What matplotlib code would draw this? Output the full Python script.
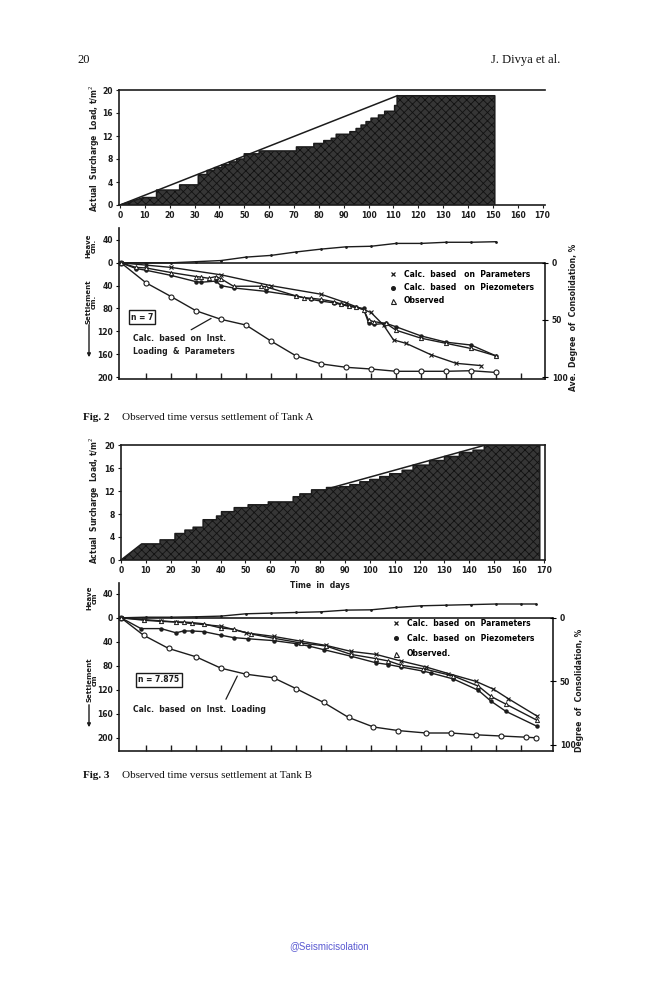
import numpy as np
import matplotlib.pyplot as plt
from matplotlib.lines import Line2D

plt.rcParams['font.family'] = 'DejaVu Sans'
plt.rcParams['hatch.linewidth'] = 0.6

# ---- Tank A (Fig. 2) ----
load_a_days = [9.4, 14.7, 24, 31.5, 35, 38, 41, 44, 47, 50, 56, 71, 78, 82, 85, 87,
               92.5, 95, 97, 99, 101, 104, 106.5, 110.5, 111.5]
load_a = [1.3, 2.6, 3.5, 5.3, 6.0, 6.5, 7.0, 7.5, 8.0, 8.9, 9.4, 10.1, 10.7, 11.2, 11.6, 12.3,
          12.75, 13.3, 13.9, 14.5, 15.1, 15.65, 16.3, 17.3, 19.0]
load_a_end = 150.8
plan_a_days = [0, 111.5]
plan_a = [0, 19.0]

heave_a_days = [0, 10, 20, 30, 40, 50, 60, 70, 80, 90, 100, 110, 120, 130, 140, 150]
heave_a = [0, 0, 0, 2, 4, 10, 13, 19, 24, 28, 29, 34, 34, 36, 36, 37]

inst_a_days = [0, 10, 20, 30, 40, 50, 60, 70, 80, 90, 100, 110, 120, 130, 140, 150]
inst_a = [0, 35, 59, 84, 99, 109, 137, 163, 177, 183, 186, 190, 190, 190, 189, 192]

param_a_days = [0, 10, 20, 40, 60, 80, 90, 100, 105, 109, 114, 124, 134, 144]
param_a = [0, 4, 8, 21, 40, 55, 70, 87, 109, 135, 141, 161, 176, 180]

piezo_a_days = [0, 6, 10, 20, 30, 32, 38, 40, 45, 58, 70, 76, 80, 85, 88, 91, 94, 97,
                99, 101, 106, 110, 120, 130, 140, 150]
piezo_a = [0, 10, 13, 22, 33, 34, 32, 40, 44, 50, 58, 64, 67, 70, 73, 76, 78, 80,
           105, 108, 106, 112, 128, 139, 144, 163]

obs_a_days = [0, 6, 10, 20, 30, 32, 35, 38, 40, 45, 56, 58, 70, 73, 76, 80, 85, 88, 91,
              94, 97, 99, 101, 106, 110, 120, 130, 140, 150]
obs_a = [0, 8, 9, 17, 24, 25, 27, 24, 28, 41, 41, 42, 58, 61, 62, 64, 68, 72, 75,
         78, 82, 100, 103, 106, 118, 132, 141, 150, 163]

# ---- Tank B (Fig. 3) ----
load_b_days = [8.3, 15.7, 21.7, 25.7, 29, 33, 38.4, 40.4, 45.5, 51.1, 59.2, 69.2, 71.9,
               76.6, 82.6, 88, 92, 96, 100, 104, 108, 113, 117.4, 124, 130, 136, 141.5, 146]
load_b = [2.8, 3.5, 4.6, 5.2, 5.7, 7.0, 7.65, 8.4, 9.1, 9.6, 10.1, 11.0, 11.5,
          12.2, 12.6, 12.75, 13.1, 13.6, 14.0, 14.5, 15.0, 15.6, 16.5, 17.3, 18.0, 18.7, 19.1, 20.0]
load_b_end = 168.3
plan_b_days = [84, 146.5]
plan_b = [12.5, 20.0]

heave_b_days = [0, 10, 20, 30, 40, 50, 60, 70, 80, 90, 100, 110, 120, 130, 140, 150, 160, 166]
heave_b = [0, 1, 1, 1.7, 2.8, 6.7, 7.8, 8.9, 10, 12.8, 13.3, 17.2, 20, 21, 22, 23, 23, 23]

inst_b_days = [0, 9, 19, 30, 40, 50, 61, 70, 81, 91, 101, 111, 122, 132, 142, 152, 162, 166]
inst_b = [0, 29, 51, 65, 84, 94, 100, 118, 141, 166, 182, 188, 192, 192, 195, 197, 199, 200]

param_b_days = [0, 9, 16, 22, 40, 50, 61, 72, 82, 92, 102, 112, 122, 131, 142, 149, 155, 166.5]
param_b = [0, 4, 6, 7, 14, 25, 31, 39, 46, 56, 61, 72, 82, 93, 106, 119, 135, 164]

piezo_b_days = [0, 8, 16, 22, 25, 28.5, 33, 40, 45, 51, 61, 70, 75, 81, 92, 102, 107, 112,
                121, 124, 133, 143, 148, 154, 166.5]
piezo_b = [0, 18, 18, 25, 22, 22, 23, 29, 33, 35, 38, 43, 47, 53, 64, 75, 78, 82,
           89, 92, 102, 121, 139, 156, 181]

obs_b_days = [0, 9, 16, 22, 25, 28.5, 33, 40, 45, 52, 61, 72, 82, 92, 102, 107, 112, 121,
              133, 143, 148, 154, 166.5]
obs_b = [0, 3, 5, 7, 7, 8, 10, 17, 19, 27, 34, 42, 47, 61, 68, 72, 79, 85,
         97, 114, 131, 144, 171]

legend_labels_a = ['Calc.  based   on  Parameters', 'Calc.  based   on  Piezometers', 'Observed']
legend_labels_b = ['Calc.  based  on  Parameters', 'Calc.  based  on  Piezometers', 'Observed.']

W, H = 659, 1000
ink = '#1c1c1c'
fig = plt.figure(figsize=(W / 100, H / 100), dpi=100)


def box(l, t, r, b):
    return [l / W, 1 - b / H, (r - l) / W, (b - t) / H]


def fpos(x, y):
    return (x / W, 1 - y / H)


def bold_ticks(ax):
    for lab in ax.get_xticklabels() + ax.get_yticklabels():
        lab.set_fontweight('bold')
        lab.set_color(ink)


def stairs(days, loads, end_day):
    xs, ys = [0, days[0]], [0, loads[0]]
    for d, v in zip(days[1:], loads[1:]):
        xs += [d, d]
        ys += [ys[-1], v]
    xs += [end_day, end_day]
    ys += [ys[-1], 0]
    return xs, ys


def load_panel(rect, days, loads, end_day, pdays, pvals, xlim, right_spine):
    ax = fig.add_axes(rect)
    xs, ys = stairs(days, loads, end_day)
    ax.fill(xs, ys, facecolor='#363636', edgecolor='#111111', hatch='xxxx', lw=0)
    ax.plot(xs, ys, color=ink, lw=1.1)
    ax.plot(pdays, pvals, color=ink, lw=1.1)
    ax.set_xlim(*xlim)
    ax.set_ylim(0, 20)
    ax.set_xticks(range(0, 171, 10))
    ax.set_yticks(range(0, 21, 4))
    ax.tick_params(length=2.5, width=0.8, pad=2, labelsize=5.5, colors=ink)
    for s in ax.spines.values():
        s.set_linewidth(1.2)
        s.set_color(ink)
    ax.spines['right'].set_visible(right_spine)
    bold_ticks(ax)
    return ax


def settle_panel(rect, xlim, ylim, pct_scale):
    ax = fig.add_axes(rect)
    ax.set_xlim(*xlim)
    ax.set_ylim(*ylim)
    ax.spines['top'].set_visible(False)
    ax.spines['right'].set_bounds(0, ylim[0])
    for s in ax.spines.values():
        s.set_linewidth(1.2)
        s.set_color(ink)
    ax.axhline(0, color=ink, lw=1.2)
    ax.set_xticks(range(10, 161, 10))
    ax.set_xticklabels([])
    ax.tick_params(axis='x', direction='in', length=4, width=1.0, colors=ink)
    yt = [-40, 0, 40, 80, 120, 160, 200]
    ax.set_yticks(yt)
    ax.set_yticklabels([str(abs(v)) for v in yt])
    ax.tick_params(axis='y', direction='out', length=2.5, width=0.8, labelsize=5.5, pad=2)
    bold_ticks(ax)
    axr = ax.twinx()
    axr.set_ylim(ylim[0] / pct_scale, ylim[1] / pct_scale)
    for s in axr.spines.values():
        s.set_visible(False)
    axr.set_yticks([0, 50, 100])
    axr.tick_params(direction='inout', length=4, width=0.8, labelsize=5.5, pad=3)
    bold_ticks(axr)
    return ax


def curves(ax, hd, hv, idd, iv, pd, pv, zd, zv, od, ov):
    kw = dict(color=ink, lw=1.0, clip_on=False)
    ax.plot(hd, [-v for v in hv], marker='.', ms=2, **kw)
    ax.plot(idd, iv, marker='o', ms=3.6, mfc='white', mew=0.8, **kw)
    ax.plot(pd, pv, marker='x', ms=3, mew=0.8, **kw)
    ax.plot(zd, zv, marker='o', ms=2.2, **kw)
    ax.plot(od, ov, marker='^', ms=3, mfc='white', mew=0.7, **kw)


def legend(ax, labels, x, y, spacing):
    handles = [Line2D([], [], ls='none', marker='x', ms=3.5, mew=0.9, color=ink),
               Line2D([], [], ls='none', marker='o', ms=2.6, color=ink),
               Line2D([], [], ls='none', marker='^', ms=3.6, mfc='white', mew=0.8, color=ink)]
    ax.legend(handles, labels, loc='upper left', bbox_to_anchor=fpos(x, y),
              bbox_transform=fig.transFigure, frameon=False,
              prop=dict(size=5.5, weight='bold'), handlelength=0.8, handletextpad=1.0,
              labelspacing=spacing, borderpad=0, borderaxespad=0)


def down_arrow(ax, x, y0, y1):
    ax.annotate('', xy=fpos(x, y1), xytext=fpos(x, y0), xycoords='figure fraction',
                textcoords='figure fraction',
                arrowprops=dict(arrowstyle='-|>', color=ink, lw=1.0, mutation_scale=5))


small = dict(fontsize=5.5, fontweight='bold', color=ink)
side = dict(rotation=90, ha='center', va='center', linespacing=1.0,
            fontsize=5, fontweight='bold', color=ink)

# ---- Fig. 2 ----
ax1 = load_panel(box(119, 90, 545, 205), load_a_days, load_a, load_a_end,
                 plan_a_days, plan_a, (-0.4, 171), False)
fig.text(*fpos(95, 148), 'Actual  Surcharge  Load, t/m$^2$', rotation=90,
         ha='center', va='center', **small)

ax2 = settle_panel(box(119, 228, 545, 379), (-0.8, 169.6), (203.5, -61), 2.0)
curves(ax2, heave_a_days, heave_a, inst_a_days, inst_a, param_a_days, param_a,
       piezo_a_days, piezo_a, obs_a_days, obs_a)
legend(ax2, legend_labels_a, 390, 270, 0.55)
ax2.text(*fpos(142, 317), 'n = 7', transform=fig.transFigure, ha='center', va='center',
         bbox=dict(boxstyle='square,pad=0.3', fc='white', ec=ink, lw=1.0), **small)
ax2.annotate('Calc.  based  on  Inst.\nLoading  &  Parameters', xy=(37, 95), xycoords='data',
             xytext=fpos(133, 345), textcoords='figure fraction', ha='left', va='center',
             linespacing=1.6, arrowprops=dict(arrowstyle='-', color=ink, lw=0.9,
                                              relpos=(0.5, 1.0)), **small)
fig.text(*fpos(91, 246), 'Heave\ncm.', **side)
fig.text(*fpos(91, 302), 'Settlement\ncm.', **side)
down_arrow(ax2, 89, 322, 360)
fig.text(*fpos(574, 317), 'Ave.  Degree  of  Consolidation, %', rotation=90,
         ha='center', va='center', **small)

# ---- Fig. 3 ----
ax3 = load_panel(box(121, 445, 545, 560), load_b_days, load_b, load_b_end,
                 plan_b_days, plan_b, (0, 170.4), True)
fig.text(*fpos(95, 500), 'Actual  Surcharge  Load, t/m$^2$', rotation=90,
         ha='center', va='center', **small)
fig.text(*fpos(320, 585), 'Time  in  days', ha='center', va='center', **small)

ax4 = settle_panel(box(119, 583, 553, 751), (-0.8, 172.8), (222, -58), 2.12)
curves(ax4, heave_b_days, heave_b, inst_b_days, inst_b, param_b_days, param_b,
       piezo_b_days, piezo_b, obs_b_days, obs_b)
legend(ax4, legend_labels_b, 393, 619, 0.8)
ax4.text(*fpos(159, 680), 'n = 7.875', transform=fig.transFigure, ha='center', va='center',
         bbox=dict(boxstyle='square,pad=0.3', fc='white', ec=ink, lw=1.0), **small)
ax4.annotate('Calc.  based  on  Inst.  Loading', xy=(47, 93), xycoords='data',
             xytext=fpos(133, 709), textcoords='figure fraction', ha='left', va='center',
             arrowprops=dict(arrowstyle='-', color=ink, lw=0.9, relpos=(0.68, 1.0)), **small)
fig.text(*fpos(92, 598), 'Heave\ncm', **side)
fig.text(*fpos(92, 680), 'Settlement\ncm', **side)
down_arrow(ax4, 89, 702, 730)
fig.text(*fpos(579, 690), 'Degree  of  Consolidation, %', rotation=90,
         ha='center', va='center', **small)

# ---- page text ----
serif = dict(family='Liberation Serif', color='#111111')
fig.text(*fpos(77, 60), '20', ha='left', va='center', fontsize=9, **serif)
fig.text(*fpos(560, 60), 'J. Divya et al.', ha='right', va='center', fontsize=9, **serif)
fig.text(*fpos(83, 418), 'Fig. 2', ha='left', va='center', fontsize=8, fontweight='bold', **serif)
fig.text(*fpos(122, 418), 'Observed time versus settlement of Tank A', ha='left', va='center',
         fontsize=8, **serif)
fig.text(*fpos(83, 776), 'Fig. 3', ha='left', va='center', fontsize=8, fontweight='bold', **serif)
fig.text(*fpos(122, 776), 'Observed time versus settlement at Tank B', ha='left', va='center',
         fontsize=8, **serif)
fig.text(*fpos(329, 946), '@Seismicisolation', ha='center', va='center', fontsize=7,
         family='Liberation Sans', color='#5a5ad2')

fig.savefig('out.png', dpi=100)
